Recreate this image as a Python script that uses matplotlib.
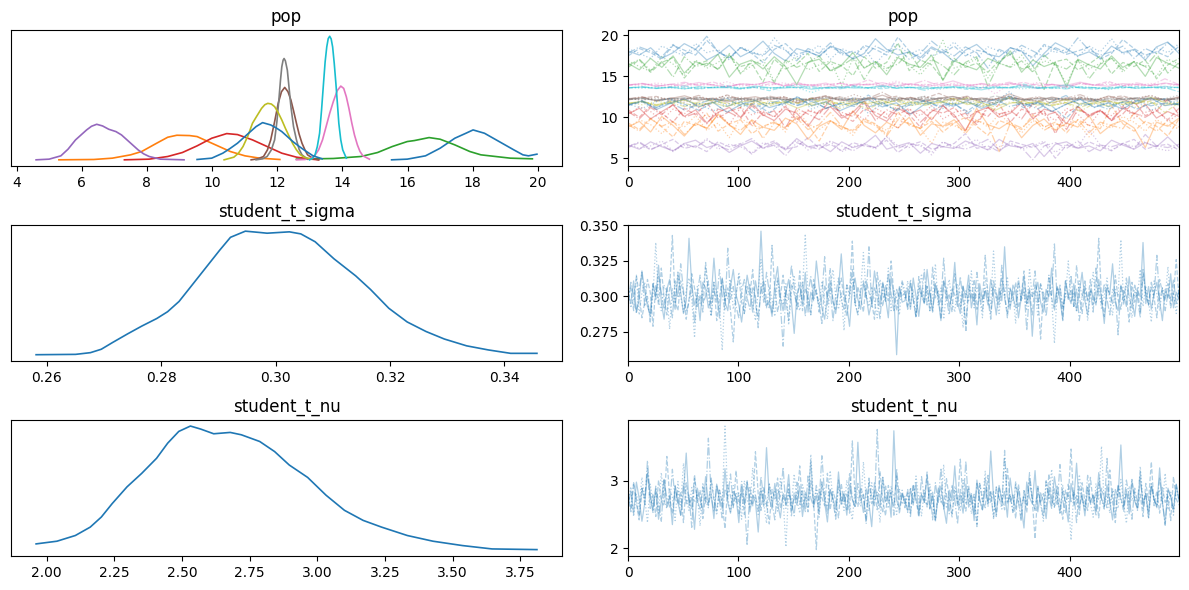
import numpy as np
import matplotlib.pyplot as plt

# ---------------- posterior densities ----------------
# pop components, in colour-cycle order C0..C9, then C0 again
pop_kde_x = [
    [15.51, 15.99, 16.55, 17.00, 17.45, 17.79, 18.01, 18.36, 18.81, 19.26, 19.54, 19.71, 19.97],
    [5.30, 6.37, 6.94, 7.50, 7.84, 8.30, 8.64, 8.92, 9.31, 9.54, 9.88, 10.22, 10.56, 11.01, 11.46, 12.08],
    [12.59, 13.72, 14.57, 15.08, 15.53, 15.99, 16.21, 16.66, 17.00, 17.45, 17.91, 18.25, 18.70, 19.15, 19.83],
    [7.31, 8.07, 8.64, 9.09, 9.54, 9.99, 10.45, 10.78, 11.24, 11.69, 12.14, 12.59, 13.05, 13.27],
    [4.60, 5.00, 5.36, 5.58, 5.81, 6.15, 6.30, 6.46, 6.64, 6.83, 7.05, 7.22, 7.39, 7.56, 7.73, 7.90, 8.07, 8.41, 9.14],
    [11.20, 11.40, 11.58, 11.70, 11.80, 11.92, 12.03, 12.13, 12.23, 12.33, 12.42, 12.50, 12.59, 12.67, 12.76, 12.85, 12.93, 13.10, 13.27],
    [12.59, 12.85, 13.05, 13.16, 13.27, 13.39, 13.50, 13.61, 13.72, 13.84, 13.95, 14.04, 14.12, 14.20, 14.29, 14.37, 14.46, 14.54, 14.63, 14.83],
    [11.35, 11.55, 11.69, 11.82, 11.92, 11.99, 12.05, 12.10, 12.14, 12.18, 12.21, 12.25, 12.31, 12.36, 12.42, 12.50, 12.59, 12.67, 12.76, 12.93],
    [10.37, 10.67, 10.81, 10.95, 11.10, 11.24, 11.35, 11.52, 11.62, 11.71, 11.82, 11.92, 12.03, 12.14, 12.25, 12.37, 12.48, 12.59, 12.70, 12.82, 13.05],
    [12.99, 13.08, 13.16, 13.23, 13.30, 13.36, 13.42, 13.47, 13.52, 13.565, 13.61, 13.655, 13.70, 13.75, 13.80, 13.85, 13.89, 13.95, 14.01, 14.12],
    [9.54, 9.99, 10.33, 10.55, 10.78, 10.95, 11.12, 11.35, 11.55, 11.80, 11.97, 12.14, 12.31, 12.48, 12.65, 12.82, 13.10, 13.38],
]
pop_kde_y = [
    [0, 2, 12, 35, 65, 80, 90, 80, 55, 30, 15, 12, 17],
    [0, 1, 5, 15, 25, 50, 68, 74, 73, 70, 55, 40, 25, 12, 5, 1],
    [2, 4, 10, 22, 40, 55, 58, 67, 62, 45, 25, 15, 10, 5, 3],
    [0, 2, 10, 22, 42, 65, 79, 76, 60, 40, 20, 8, 2, 0],
    [0, 2, 12, 32, 60, 90, 101, 107, 102, 92, 85, 75, 60, 45, 30, 18, 10, 2, 0],
    [0, 3, 10, 30, 60, 115, 170, 205, 218, 205, 180, 148, 110, 78, 50, 30, 15, 4, 0],
    [0, 1, 5, 14, 30, 60, 100, 140, 175, 208, 222, 215, 190, 155, 110, 75, 45, 25, 12, 2],
    [0, 3, 10, 30, 60, 115, 180, 240, 280, 300, 305, 298, 270, 220, 160, 100, 60, 32, 15, 2],
    [0, 8, 20, 40, 72, 110, 128, 155, 166, 170, 168, 160, 142, 120, 95, 70, 48, 30, 16, 8, 2],
    [0, 4, 15, 40, 80, 150, 230, 295, 340, 365, 372, 364, 340, 290, 230, 165, 110, 60, 30, 5],
    [1, 5, 20, 34, 50, 65, 80, 100, 112, 105, 96, 85, 70, 55, 42, 30, 12, 3],
]

sigma_kde_x = [0.2581, 0.2650, 0.2676, 0.2695, 0.2715, 0.2741, 0.2766, 0.2792, 0.2811, 0.2831,
               0.2850, 0.2876, 0.2902, 0.2921, 0.2947, 0.2973, 0.2985, 0.3024, 0.3044, 0.3069,
               0.3102, 0.3140, 0.3166, 0.3198, 0.3230, 0.3263, 0.3295, 0.3334, 0.3372, 0.3411, 0.3457]
sigma_kde_y = [0, 1, 6, 16, 36, 61, 84, 106, 126, 156, 196, 251, 306, 344, 362, 358, 356, 360,
               354, 331, 281, 231, 191, 136, 96, 68, 46, 26, 14, 4, 4]

nu_kde_x = [1.961, 2.038, 2.106, 2.161, 2.202, 2.242, 2.297, 2.351, 2.406, 2.447, 2.488, 2.531,
            2.569, 2.617, 2.678, 2.719, 2.787, 2.842, 2.896, 2.964, 3.032, 3.100, 3.169, 3.237,
            3.332, 3.427, 3.536, 3.645, 3.811]
nu_kde_y = [17, 25, 42, 67, 97, 137, 187, 227, 272, 317, 352, 368, 359, 345, 349, 342, 322, 292,
            252, 215, 162, 117, 87, 67, 42, 25, 12, 2, 0]

# ---------------- sampled chains (4 chains each, thinned reading of the right column) ----------------
pop_c0 = [
    [18.1, 17.6, 18.5, 17.2, 17.9, 19.0, 18.3, 17.0, 17.7, 18.8, 17.4, 18.1, 19.3, 17.8, 16.9, 18.4, 18.0, 17.5, 18.7, 18.2, 17.1, 17.8, 19.6, 18.3, 17.6, 18.0, 17.3, 18.6, 17.9, 16.8, 18.2, 18.9, 17.7, 17.4, 18.5, 18.1, 16.3, 17.8, 19.1, 18.4, 17.5, 18.0, 17.2, 18.7, 17.9, 18.3, 17.0, 18.6, 19.2, 17.8],
    [17.5, 18.4, 17.9, 17.1, 18.8, 18.2, 17.6, 19.4, 18.0, 17.3, 18.5, 17.8, 16.7, 18.3, 19.0, 17.7, 18.1, 17.4, 18.6, 17.9, 17.2, 18.8, 18.3, 17.6, 19.8, 18.1, 17.0, 18.4, 17.8, 18.7, 17.5, 18.2, 17.9, 16.6, 18.5, 18.0, 17.3, 18.9, 18.3, 17.7, 18.1, 18.6, 17.1, 17.8, 19.5, 18.4, 17.6, 18.0, 17.4, 18.7],
    [18.4, 17.8, 17.2, 18.7, 18.1, 17.5, 19.0, 17.9, 18.3, 17.0, 18.6, 18.0, 17.6, 19.7, 18.2, 17.4, 17.9, 18.8, 17.1, 18.4, 17.8, 18.5, 16.5, 18.1, 18.9, 17.7, 18.3, 17.5, 18.0, 19.2, 17.8, 17.2, 18.6, 18.1, 17.6, 18.4, 17.0, 18.8, 17.9, 18.3, 17.4, 18.7, 18.0, 19.6, 17.7, 18.2, 17.3, 18.5, 17.9, 19.0],
    [17.8, 18.6, 18.1, 17.4, 18.9, 17.7, 18.3, 19.9, 18.0, 17.2, 18.5, 17.9, 17.5, 18.8, 18.2, 16.9, 18.4, 17.8, 19.1, 17.6, 18.1, 17.3, 18.7, 18.0, 18.4, 17.1, 17.8, 19.3, 18.2, 17.5, 18.6, 17.9, 16.0, 18.3, 17.7, 18.8, 18.1, 17.4, 18.5, 17.9, 19.7, 18.2, 17.6, 18.0, 18.7, 17.2, 18.4, 17.8, 19.1, 18.1],
]
pop_c1 = [
    [8.8, 9.5, 8.2, 10.1, 9.0, 7.7, 9.3, 8.6, 10.4, 9.1, 7.9, 9.7, 8.8, 8.4, 9.9, 9.2, 7.3, 8.9, 9.6, 8.5, 10.8, 9.0, 8.1, 9.4, 8.7, 10.0, 7.8, 9.2, 8.9, 9.7, 8.3, 11.1, 9.1, 8.6, 9.5, 7.5, 9.0, 9.8, 8.4, 9.3, 8.8, 10.2, 8.0, 9.1, 9.6, 8.7, 6.3, 9.4, 8.9, 9.9],
    [9.3, 8.5, 9.9, 8.8, 7.6, 9.5, 9.0, 10.5, 8.3, 9.2, 9.7, 8.0, 8.9, 9.4, 8.6, 10.1, 9.1, 7.1, 9.6, 8.8, 8.4, 9.8, 9.2, 7.9, 10.7, 9.0, 8.7, 9.5, 8.2, 9.3, 10.0, 8.9, 7.8, 9.6, 9.1, 8.5, 10.3, 8.8, 9.4, 8.1, 9.7, 9.0, 8.6, 11.4, 9.2, 8.3, 9.5, 8.9, 7.7, 9.8],
    [8.6, 9.7, 9.1, 8.0, 9.4, 8.8, 10.2, 8.4, 9.3, 7.5, 9.9, 9.0, 8.7, 9.6, 8.2, 10.9, 9.2, 8.5, 9.5, 8.9, 7.8, 9.7, 9.1, 8.4, 10.0, 9.3, 8.6, 6.8, 9.4, 9.0, 8.3, 9.8, 8.8, 10.4, 9.2, 8.1, 9.6, 8.9, 8.5, 9.9, 9.3, 7.6, 9.1, 8.7, 10.1, 9.4, 8.3, 9.7, 9.0, 8.6],
    [9.1, 8.3, 9.8, 8.9, 9.5, 7.9, 9.2, 8.7, 10.3, 9.0, 8.4, 9.6, 7.4, 9.3, 8.8, 9.9, 8.5, 9.1, 10.6, 8.9, 8.2, 9.5, 9.0, 7.7, 9.7, 9.2, 8.6, 10.1, 8.8, 9.4, 8.0, 9.6, 9.1, 5.8, 9.3, 8.7, 9.9, 8.4, 9.2, 8.9, 9.7, 8.1, 9.4, 9.0, 8.6, 10.5, 9.2, 8.3, 9.6, 8.8],
]
pop_c2 = [
    [16.6, 15.8, 17.2, 16.1, 17.5, 15.4, 16.8, 16.3, 17.7, 14.9, 16.5, 17.0, 15.9, 17.4, 16.2, 14.0, 16.7, 17.1, 15.7, 16.4, 17.9, 16.0, 16.8, 15.2, 17.3, 16.5, 16.1, 17.6, 14.5, 16.9, 16.3, 15.8, 17.2, 16.6, 18.1, 15.5, 17.0, 16.2, 16.7, 13.7, 17.1, 16.4, 15.9, 17.5, 16.1, 16.8, 15.0, 17.3, 16.6, 16.0],
    [16.1, 17.0, 15.5, 16.7, 17.3, 14.8, 16.4, 16.9, 15.8, 17.6, 16.2, 16.6, 14.3, 17.1, 15.9, 16.5, 17.8, 15.6, 16.8, 16.3, 15.1, 17.4, 16.0, 16.7, 19.1, 15.7, 17.0, 16.4, 14.6, 17.2, 16.1, 16.6, 15.5, 16.9, 17.7, 15.9, 16.3, 13.4, 16.8, 17.1, 15.8, 16.5, 17.5, 15.3, 16.7, 16.2, 17.0, 14.7, 16.4, 17.2],
    [16.9, 16.2, 15.6, 17.4, 16.5, 15.1, 17.0, 16.0, 16.7, 17.8, 15.4, 16.3, 17.1, 14.4, 16.6, 17.3, 15.8, 16.4, 16.9, 13.9, 17.2, 16.1, 16.7, 15.7, 17.5, 16.3, 15.2, 16.8, 19.4, 16.0, 16.5, 17.1, 14.8, 16.6, 16.2, 17.6, 15.6, 16.9, 16.4, 14.1, 17.0, 15.9, 16.6, 17.3, 15.5, 16.8, 16.2, 15.0, 17.1, 16.5],
    [16.3, 17.1, 15.7, 16.8, 14.9, 17.4, 16.2, 16.6, 15.9, 17.7, 15.3, 16.9, 16.4, 14.2, 17.0, 16.1, 16.7, 17.5, 15.6, 16.3, 17.2, 14.6, 16.8, 16.0, 16.5, 18.0, 15.8, 17.1, 16.3, 15.2, 16.7, 17.4, 13.8, 16.6, 16.1, 16.9, 15.5, 17.6, 16.4, 15.9, 17.0, 14.7, 16.5, 17.2, 15.8, 16.8, 16.2, 17.8, 15.4, 16.7],
]
pop_c3 = [
    [10.4, 11.1, 9.8, 10.7, 11.5, 10.1, 10.9, 9.3, 10.6, 11.2, 10.0, 11.7, 10.3, 9.6, 11.0, 10.5, 8.9, 10.8, 11.3, 9.9, 10.6, 12.0, 10.2, 9.5, 11.1, 10.4, 10.9, 9.7, 11.4, 10.3, 8.4, 10.7, 11.2, 10.0, 10.5, 11.8, 9.8, 11.0, 10.6, 9.2, 11.3, 10.2, 10.8, 9.6, 11.1, 10.4, 11.6, 9.9, 10.7, 10.1],
    [10.9, 10.0, 11.4, 10.5, 9.4, 11.1, 10.3, 11.8, 9.9, 10.7, 11.2, 9.0, 10.6, 10.1, 11.3, 9.7, 10.8, 10.4, 12.1, 10.2, 9.5, 11.0, 10.6, 9.9, 11.5, 10.3, 8.8, 10.9, 10.5, 11.2, 9.8, 10.7, 10.1, 11.6, 9.4, 11.0, 10.4, 10.8, 8.0, 10.6, 11.3, 10.0, 10.9, 9.6, 10.4, 11.9, 10.2, 10.8, 9.7, 11.1],
    [10.2, 11.3, 10.7, 9.6, 11.0, 10.4, 11.7, 9.9, 10.6, 9.1, 11.2, 10.3, 10.8, 10.0, 11.5, 9.4, 10.9, 10.5, 12.3, 10.1, 10.7, 9.7, 11.1, 10.4, 8.6, 11.0, 10.2, 11.4, 9.8, 10.6, 10.9, 9.3, 11.3, 10.3, 10.7, 12.0, 10.0, 10.5, 9.6, 11.1, 10.4, 8.9, 10.8, 10.2, 11.5, 9.9, 10.6, 11.0, 9.5, 10.4],
    [10.7, 9.8, 11.2, 10.3, 11.6, 10.0, 10.5, 9.2, 11.0, 10.6, 9.9, 11.4, 10.2, 10.8, 8.7, 11.1, 10.4, 9.7, 11.3, 10.6, 10.1, 11.8, 9.6, 10.9, 10.3, 11.1, 9.4, 10.7, 11.5, 10.0, 10.5, 9.1, 11.2, 10.4, 10.8, 9.8, 11.7, 10.2, 10.6, 8.5, 11.0, 10.3, 10.9, 9.7, 11.3, 10.5, 10.0, 10.8, 12.2, 10.3],
]
pop_c4 = [
    [6.6, 6.1, 7.0, 6.4, 5.9, 6.8, 7.2, 6.3, 6.7, 5.7, 6.5, 7.1, 6.2, 6.9, 6.0, 7.4, 6.4, 6.6, 5.8, 7.0, 6.3, 6.7, 7.8, 6.1, 6.5, 6.9, 5.6, 6.8, 6.4, 6.2, 7.1, 6.6, 6.0, 7.3, 6.5, 6.3, 6.8, 5.2, 6.7, 7.0, 6.2, 6.5, 5.9, 7.2, 6.6, 6.1, 6.9, 6.4, 7.6, 6.3],
    [6.3, 6.9, 6.0, 6.7, 7.3, 6.2, 6.5, 5.8, 7.0, 6.4, 6.8, 5.5, 6.6, 7.1, 6.1, 6.4, 7.5, 6.2, 6.7, 5.9, 6.9, 6.5, 6.3, 7.2, 5.7, 6.6, 7.0, 6.1, 6.4, 6.8, 8.0, 6.2, 6.5, 5.8, 7.1, 6.7, 6.3, 6.9, 5.0, 6.6, 6.2, 7.0, 6.4, 5.9, 6.8, 7.3, 6.1, 6.5, 6.7, 6.0],
    [6.8, 6.2, 6.5, 7.1, 5.9, 6.6, 6.3, 7.4, 6.1, 6.7, 6.4, 5.6, 6.9, 6.5, 6.2, 7.2, 6.0, 6.6, 7.0, 5.8, 6.4, 6.8, 6.1, 7.7, 6.5, 6.3, 6.7, 5.4, 7.0, 6.2, 6.6, 7.3, 6.0, 6.4, 6.9, 6.1, 6.5, 7.1, 5.7, 6.7, 6.3, 8.5, 6.6, 6.0, 6.8, 6.4, 7.0, 6.2, 5.9, 6.6],
    [6.4, 7.0, 6.1, 6.6, 5.8, 6.8, 6.3, 7.2, 6.5, 6.0, 6.7, 7.4, 6.2, 6.6, 5.3, 6.9, 6.4, 6.1, 7.1, 6.5, 5.9, 6.7, 6.3, 7.6, 6.2, 6.8, 6.5, 5.7, 7.0, 6.4, 6.1, 6.6, 7.3, 6.0, 6.7, 6.3, 4.8, 6.5, 6.9, 6.2, 7.1, 5.8, 6.6, 6.4, 6.8, 6.1, 7.9, 6.5, 6.3, 6.7],
]
pop_c5 = [
    [12.21, 12.45, 11.98, 12.30, 12.62, 12.08, 12.35, 11.85, 12.27, 12.51, 12.14, 12.39, 11.72, 12.25, 12.58, 12.03, 12.33, 12.19, 12.70, 12.11, 12.42, 11.92, 12.28, 12.55, 12.06, 12.37, 12.17, 12.85, 12.24, 11.95, 12.47, 12.13, 12.31, 12.01, 12.60, 12.22, 11.60, 12.36, 12.15, 12.49],
    [12.12, 12.38, 12.55, 11.96, 12.27, 12.44, 12.09, 12.73, 12.19, 11.88, 12.34, 12.50, 12.05, 12.29, 12.64, 12.16, 11.79, 12.41, 12.23, 12.57, 12.02, 12.32, 12.92, 12.18, 12.46, 11.91, 12.26, 12.53, 12.10, 12.36, 11.68, 12.24, 12.48, 12.07, 12.39, 12.61, 12.14, 12.30, 11.99, 12.43],
    [12.33, 12.07, 12.48, 12.19, 11.83, 12.40, 12.26, 12.66, 12.02, 12.35, 12.13, 12.52, 11.94, 12.29, 12.45, 12.11, 12.78, 12.21, 11.76, 12.37, 12.16, 12.56, 12.04, 12.31, 12.47, 11.89, 12.25, 12.62, 12.09, 12.38, 12.20, 11.55, 12.42, 12.15, 12.54, 12.00, 12.34, 12.69, 12.12, 12.28],
    [12.26, 12.51, 12.03, 12.36, 12.18, 12.67, 11.90, 12.32, 12.44, 12.08, 12.59, 12.22, 11.81, 12.39, 12.14, 12.49, 12.01, 12.30, 13.05, 12.17, 12.43, 11.97, 12.35, 12.23, 12.58, 12.06, 11.70, 12.40, 12.19, 12.52, 12.10, 12.33, 12.76, 12.15, 11.93, 12.45, 12.27, 12.63, 12.04, 12.37],
]
pop_c6 = [
    [13.96, 14.12, 13.78, 14.03, 13.88, 14.25, 13.93, 13.70, 14.08, 13.99, 14.35, 13.84, 14.01, 13.91, 14.18, 13.62, 14.05, 13.95, 14.22, 13.87, 14.10, 13.75, 13.98, 14.44, 13.90, 14.07, 13.81, 14.14, 13.97, 13.52, 14.02, 13.89, 14.29, 13.94, 13.79, 14.11, 14.00, 13.86, 14.19, 13.92],
    [13.89, 14.06, 13.97, 13.73, 14.16, 13.92, 14.31, 13.85, 14.02, 13.67, 14.09, 13.95, 14.24, 13.80, 13.99, 14.13, 13.88, 14.58, 13.94, 13.76, 14.05, 13.91, 14.20, 13.83, 14.00, 13.58, 14.11, 13.96, 14.27, 13.86, 14.04, 13.71, 14.15, 13.93, 14.38, 13.82, 14.01, 13.90, 14.12, 13.98],
    [14.04, 13.86, 14.19, 13.95, 13.74, 14.10, 13.98, 14.33, 13.82, 14.06, 13.91, 14.23, 13.65, 14.01, 13.94, 14.15, 13.79, 14.08, 13.97, 14.41, 13.88, 14.03, 13.72, 14.17, 13.93, 14.00, 12.85, 14.12, 13.85, 14.26, 13.96, 13.77, 14.09, 13.90, 14.21, 13.99, 13.83, 14.14, 13.68, 14.05],
    [13.93, 14.14, 13.81, 14.02, 14.28, 13.89, 13.99, 13.69, 14.11, 13.94, 14.36, 13.84, 14.07, 13.96, 13.63, 14.18, 13.91, 14.04, 13.78, 14.22, 13.97, 14.50, 13.87, 14.01, 13.74, 14.13, 13.92, 14.29, 13.80, 14.06, 13.98, 13.60, 14.16, 13.95, 14.02, 13.86, 14.20, 13.90, 14.70, 14.00],
]
pop_c7 = [
    [12.21, 12.30, 12.12, 12.25, 12.38, 12.16, 12.23, 12.05, 12.28, 12.19, 12.44, 12.14, 12.26, 12.09, 12.33, 12.20, 11.96, 12.27, 12.17, 12.36, 12.22, 12.11, 12.29, 12.52, 12.18, 12.24, 12.02, 12.31, 12.15, 12.25, 12.39, 12.13, 12.20, 11.88, 12.27, 12.19, 12.34, 12.10, 12.23, 12.29],
    [12.17, 12.28, 12.06, 12.24, 12.35, 12.19, 12.12, 12.41, 12.22, 12.01, 12.30, 12.16, 12.25, 12.08, 12.47, 12.21, 12.14, 12.32, 12.18, 11.92, 12.26, 12.20, 12.37, 12.11, 12.28, 12.15, 12.61, 12.23, 12.04, 12.29, 12.19, 12.33, 12.13, 12.25, 11.80, 12.21, 12.38, 12.16, 12.27, 12.10],
    [12.26, 12.13, 12.31, 12.20, 12.04, 12.29, 12.17, 12.42, 12.22, 12.10, 12.34, 12.18, 11.99, 12.27, 12.21, 12.49, 12.15, 12.24, 12.07, 12.32, 12.19, 12.38, 12.12, 12.25, 11.72, 12.28, 12.16, 12.35, 12.21, 12.03, 12.30, 12.18, 12.45, 12.14, 12.23, 12.09, 12.36, 12.20, 12.27, 12.71],
    [12.19, 12.32, 12.08, 12.24, 12.15, 12.39, 12.21, 12.02, 12.28, 12.17, 12.46, 12.12, 12.25, 12.20, 11.94, 12.30, 12.16, 12.35, 12.23, 12.09, 12.27, 12.54, 12.18, 12.05, 12.31, 12.22, 12.14, 12.40, 12.19, 11.85, 12.26, 12.13, 12.33, 12.21, 12.07, 12.29, 12.17, 12.43, 12.11, 12.24],
]
pop_c8 = [
    [11.72, 11.95, 11.41, 11.83, 12.10, 11.58, 11.77, 11.30, 11.89, 12.02, 11.65, 11.84, 11.12, 11.75, 12.21, 11.52, 11.80, 11.68, 12.05, 11.44, 11.91, 11.62, 11.78, 12.32, 11.55, 11.86, 10.85, 11.70, 11.98, 11.48, 11.81, 12.14, 11.60, 11.74, 11.36, 11.93, 11.66, 12.45, 11.79, 11.50],
    [11.63, 11.88, 11.47, 11.99, 11.70, 11.27, 11.82, 12.13, 11.56, 11.76, 11.39, 11.94, 11.69, 12.27, 11.51, 11.85, 11.61, 11.05, 11.79, 11.97, 11.45, 11.73, 12.08, 11.59, 11.87, 11.33, 11.71, 12.38, 11.64, 11.90, 11.42, 11.78, 11.20, 11.83, 12.01, 11.57, 11.74, 11.96, 10.58, 11.81],
    [11.80, 11.53, 11.97, 11.67, 12.18, 11.43, 11.84, 11.71, 11.25, 11.90, 11.60, 12.06, 11.76, 11.38, 11.87, 11.66, 12.29, 11.49, 11.81, 11.00, 11.73, 11.95, 11.58, 12.11, 11.70, 11.46, 11.86, 12.55, 11.63, 11.77, 11.34, 11.92, 11.68, 12.03, 11.54, 11.82, 11.18, 11.75, 11.99, 11.61],
    [11.68, 11.92, 11.55, 11.79, 11.31, 11.86, 12.09, 11.64, 11.75, 11.40, 11.97, 11.72, 12.24, 11.50, 11.83, 11.09, 11.69, 11.93, 11.57, 12.16, 11.78, 11.44, 11.88, 11.62, 12.40, 11.74, 11.29, 11.85, 11.66, 12.00, 11.52, 11.80, 10.72, 11.71, 11.96, 11.59, 12.12, 11.77, 11.47, 11.84],
]
pop_c9 = [
    [13.61, 13.70, 13.54, 13.65, 13.48, 13.74, 13.59, 13.66, 13.52, 13.81, 13.62, 13.56, 13.69, 13.43, 13.63, 13.72, 13.57, 13.60, 13.88, 13.55, 13.67, 13.50, 13.64, 13.76, 13.58, 13.35, 13.66, 13.61, 13.71, 13.53, 13.68, 13.96, 13.59, 13.63, 13.46, 13.70, 13.57, 13.64, 13.78, 13.60],
    [13.58, 13.67, 13.51, 13.72, 13.62, 13.45, 13.66, 13.79, 13.56, 13.63, 13.25, 13.69, 13.60, 13.75, 13.53, 13.65, 13.84, 13.59, 13.49, 13.68, 13.62, 13.73, 13.55, 13.66, 13.41, 13.61, 13.70, 13.57, 14.05, 13.64, 13.52, 13.71, 13.60, 13.44, 13.67, 13.58, 13.77, 13.63, 13.54, 13.69],
    [13.64, 13.55, 13.71, 13.60, 13.47, 13.68, 13.62, 13.83, 13.57, 13.66, 13.50, 13.74, 13.61, 13.02, 13.65, 13.58, 13.72, 13.53, 13.67, 13.90, 13.59, 13.63, 13.42, 13.70, 13.56, 13.64, 13.78, 13.60, 13.48, 13.69, 13.61, 13.54, 13.75, 13.62, 13.38, 13.66, 13.59, 13.73, 13.57, 13.65],
    [13.60, 13.73, 13.56, 13.64, 13.82, 13.52, 13.67, 13.61, 13.44, 13.70, 13.58, 13.66, 13.93, 13.55, 13.63, 13.49, 13.71, 13.60, 13.76, 13.54, 13.65, 13.30, 13.68, 13.59, 13.74, 13.62, 13.51, 13.69, 13.86, 13.57, 13.64, 13.46, 13.72, 13.61, 13.58, 13.79, 13.53, 13.66, 13.63, 13.12],
]
pop_c10 = [
    [11.52, 11.98, 10.95, 11.71, 12.25, 11.30, 11.84, 10.62, 11.58, 12.07, 11.19, 11.66, 12.48, 11.40, 11.89, 10.81, 11.55, 12.15, 11.27, 11.77, 10.38, 11.63, 12.02, 11.35, 11.92, 11.09, 11.70, 12.61, 11.46, 11.83, 10.71, 11.59, 12.19, 11.23, 11.75, 11.01, 11.96, 12.35, 11.42, 11.68],
    [11.44, 11.87, 11.13, 12.10, 11.60, 10.86, 11.78, 12.30, 11.36, 11.65, 10.55, 11.91, 11.49, 12.21, 11.05, 11.73, 11.32, 12.72, 11.57, 10.93, 11.81, 12.04, 11.25, 11.67, 10.74, 11.94, 11.51, 12.40, 11.16, 11.76, 11.38, 9.85, 11.62, 12.12, 11.29, 11.85, 10.99, 11.70, 12.26, 11.48],
    [11.61, 11.08, 11.90, 12.33, 11.37, 11.74, 10.77, 11.56, 12.09, 11.21, 11.82, 11.46, 12.55, 11.00, 11.69, 11.31, 11.97, 10.49, 11.64, 12.17, 11.41, 11.79, 10.89, 11.53, 12.06, 11.28, 11.86, 13.15, 11.45, 11.72, 10.66, 11.60, 12.23, 11.18, 11.80, 11.39, 11.99, 10.83, 11.67, 12.01],
    [11.50, 12.03, 11.22, 11.76, 10.90, 11.63, 12.28, 11.34, 11.88, 10.58, 11.71, 12.13, 11.43, 11.95, 11.11, 11.66, 12.44, 11.26, 11.79, 10.79, 11.57, 12.00, 11.37, 11.84, 10.45, 11.69, 12.19, 11.31, 11.74, 11.03, 11.93, 12.66, 11.47, 11.62, 10.97, 11.83, 12.08, 11.40, 11.73, 11.55],
]
pop_chains = [pop_c0, pop_c1, pop_c2, pop_c3, pop_c4, pop_c5, pop_c6, pop_c7, pop_c8, pop_c9, pop_c10]

sigma_chains = [
    [0.302, 0.295, 0.311, 0.289, 0.298, 0.318, 0.304, 0.293, 0.287, 0.309, 0.300, 0.322, 0.296, 0.284, 0.305, 0.312, 0.299, 0.291, 0.316, 0.303, 0.288, 0.297, 0.341, 0.308, 0.294, 0.301, 0.283, 0.310, 0.306, 0.292, 0.299, 0.327, 0.302, 0.285, 0.313, 0.296, 0.290, 0.307, 0.319, 0.301, 0.294, 0.282, 0.298, 0.315, 0.304, 0.289, 0.311, 0.300, 0.346, 0.305, 0.293, 0.297, 0.286, 0.309, 0.321, 0.299, 0.290, 0.303, 0.312, 0.296, 0.274, 0.301, 0.308, 0.295, 0.317, 0.289, 0.303, 0.298, 0.325, 0.307, 0.292, 0.284, 0.300, 0.311, 0.297, 0.288, 0.305, 0.330, 0.302, 0.294, 0.279, 0.306, 0.313, 0.298, 0.291, 0.309, 0.301, 0.287, 0.296, 0.318, 0.304, 0.293, 0.310, 0.299, 0.285, 0.314, 0.300, 0.259, 0.307, 0.296,
     0.297, 0.306, 0.291, 0.313, 0.300, 0.286, 0.304, 0.295, 0.319, 0.302, 0.290, 0.308, 0.299, 0.283, 0.311, 0.305, 0.293, 0.301, 0.324, 0.296, 0.288, 0.307, 0.299, 0.315, 0.292, 0.303, 0.280, 0.309, 0.298, 0.304, 0.294, 0.312, 0.301, 0.287, 0.306, 0.297, 0.335, 0.300, 0.291, 0.308, 0.303, 0.285, 0.299, 0.314, 0.295, 0.306, 0.272, 0.302, 0.310, 0.296, 0.289, 0.305, 0.300, 0.320, 0.293, 0.307, 0.298, 0.284, 0.311, 0.301, 0.295, 0.309, 0.290, 0.303, 0.317, 0.297, 0.287, 0.305, 0.300, 0.294, 0.312, 0.299, 0.281, 0.306, 0.302, 0.323, 0.296, 0.290, 0.308, 0.301, 0.293, 0.314, 0.298, 0.286, 0.304, 0.300, 0.338, 0.295, 0.307, 0.291, 0.302, 0.310, 0.297, 0.283, 0.305, 0.299, 0.316, 0.292, 0.303, 0.298],
    [0.298, 0.307, 0.290, 0.315, 0.301, 0.285, 0.296, 0.312, 0.303, 0.279, 0.308, 0.294, 0.320, 0.299, 0.287, 0.305, 0.343, 0.296, 0.290, 0.311, 0.302, 0.284, 0.298, 0.316, 0.306, 0.293, 0.301, 0.289, 0.324, 0.304, 0.295, 0.310, 0.283, 0.299, 0.313, 0.297, 0.306, 0.290, 0.268, 0.302, 0.314, 0.296, 0.288, 0.307, 0.301, 0.319, 0.294, 0.286, 0.303, 0.311, 0.298, 0.292, 0.336, 0.305, 0.289, 0.300, 0.315, 0.297, 0.283, 0.309, 0.302, 0.294, 0.318, 0.290, 0.306, 0.299, 0.287, 0.312, 0.303, 0.295, 0.281, 0.308, 0.300, 0.320, 0.296, 0.291, 0.305, 0.313, 0.298, 0.286, 0.302, 0.339, 0.294, 0.307, 0.299, 0.289, 0.311, 0.303, 0.296, 0.284, 0.317, 0.301, 0.293, 0.308, 0.297, 0.325, 0.302, 0.290, 0.306, 0.300,
     0.303, 0.292, 0.309, 0.298, 0.286, 0.314, 0.301, 0.295, 0.307, 0.290, 0.321, 0.299, 0.304, 0.284, 0.311, 0.297, 0.302, 0.289, 0.316, 0.300, 0.293, 0.308, 0.275, 0.305, 0.298, 0.312, 0.291, 0.303, 0.296, 0.329, 0.301, 0.288, 0.307, 0.299, 0.294, 0.313, 0.302, 0.285, 0.306, 0.297, 0.310, 0.292, 0.300, 0.318, 0.295, 0.304, 0.287, 0.309, 0.301, 0.270, 0.303, 0.296, 0.314, 0.299, 0.290, 0.306, 0.302, 0.283, 0.311, 0.298, 0.305, 0.293, 0.322, 0.300, 0.288, 0.307, 0.297, 0.312, 0.294, 0.303, 0.341, 0.299, 0.286, 0.308, 0.301, 0.295, 0.315, 0.298, 0.291, 0.304, 0.300, 0.282, 0.310, 0.296, 0.306, 0.289, 0.319, 0.302, 0.294, 0.307, 0.299, 0.285, 0.312, 0.303, 0.297, 0.309, 0.292, 0.301, 0.326, 0.298],
    [0.305, 0.292, 0.299, 0.314, 0.287, 0.303, 0.310, 0.296, 0.285, 0.301, 0.338, 0.297, 0.290, 0.308, 0.302, 0.277, 0.306, 0.295, 0.318, 0.300, 0.289, 0.304, 0.313, 0.298, 0.271, 0.307, 0.295, 0.302, 0.321, 0.299, 0.286, 0.310, 0.303, 0.294, 0.262, 0.305, 0.298, 0.312, 0.291, 0.300, 0.317, 0.306, 0.288, 0.299, 0.309, 0.295, 0.283, 0.304, 0.326, 0.301, 0.292, 0.307, 0.298, 0.286, 0.313, 0.300, 0.294, 0.309, 0.280, 0.303, 0.315, 0.297, 0.290, 0.305, 0.344, 0.299, 0.287, 0.308, 0.302, 0.293, 0.311, 0.296, 0.284, 0.306, 0.319, 0.300, 0.291, 0.303, 0.276, 0.309, 0.298, 0.314, 0.295, 0.288, 0.304, 0.331, 0.301, 0.293, 0.307, 0.297, 0.285, 0.312, 0.302, 0.296, 0.320, 0.290, 0.305, 0.299, 0.287, 0.310,
     0.299, 0.311, 0.293, 0.305, 0.287, 0.302, 0.316, 0.296, 0.308, 0.290, 0.300, 0.323, 0.294, 0.306, 0.284, 0.303, 0.312, 0.297, 0.289, 0.309, 0.301, 0.278, 0.304, 0.296, 0.318, 0.292, 0.307, 0.299, 0.285, 0.313, 0.302, 0.295, 0.332, 0.298, 0.288, 0.306, 0.300, 0.314, 0.293, 0.304, 0.281, 0.310, 0.297, 0.303, 0.290, 0.320, 0.299, 0.305, 0.286, 0.309, 0.301, 0.294, 0.315, 0.298, 0.267, 0.304, 0.307, 0.292, 0.300, 0.325, 0.296, 0.303, 0.289, 0.311, 0.299, 0.306, 0.283, 0.302, 0.317, 0.295, 0.308, 0.291, 0.300, 0.313, 0.297, 0.287, 0.305, 0.301, 0.340, 0.294, 0.309, 0.298, 0.285, 0.304, 0.300, 0.319, 0.293, 0.307, 0.296, 0.282, 0.311, 0.302, 0.290, 0.306, 0.299, 0.321, 0.295, 0.303, 0.288, 0.308],
    [0.296, 0.310, 0.301, 0.288, 0.305, 0.317, 0.293, 0.300, 0.282, 0.309, 0.298, 0.314, 0.303, 0.291, 0.306, 0.297, 0.285, 0.311, 0.299, 0.323, 0.304, 0.289, 0.296, 0.308, 0.281, 0.302, 0.315, 0.295, 0.300, 0.311, 0.287, 0.305, 0.296, 0.319, 0.301, 0.290, 0.334, 0.298, 0.307, 0.293, 0.285, 0.304, 0.312, 0.299, 0.291, 0.306, 0.300, 0.278, 0.309, 0.296, 0.317, 0.303, 0.288, 0.301, 0.312, 0.295, 0.265, 0.304, 0.298, 0.322, 0.307, 0.291, 0.299, 0.310, 0.286, 0.302, 0.314, 0.297, 0.305, 0.289, 0.300, 0.328, 0.294, 0.306, 0.283, 0.301, 0.313, 0.298, 0.291, 0.308, 0.302, 0.320, 0.295, 0.287, 0.304, 0.311, 0.299, 0.335, 0.293, 0.306, 0.300, 0.284, 0.309, 0.297, 0.316, 0.302, 0.290, 0.305, 0.298, 0.311,
     0.304, 0.291, 0.312, 0.298, 0.285, 0.307, 0.300, 0.319, 0.294, 0.305, 0.289, 0.310, 0.302, 0.296, 0.327, 0.299, 0.287, 0.306, 0.301, 0.293, 0.314, 0.297, 0.280, 0.308, 0.303, 0.295, 0.317, 0.300, 0.290, 0.306, 0.298, 0.284, 0.311, 0.302, 0.296, 0.322, 0.299, 0.288, 0.305, 0.301, 0.292, 0.313, 0.297, 0.307, 0.276, 0.303, 0.300, 0.318, 0.294, 0.309, 0.298, 0.286, 0.304, 0.301, 0.337, 0.296, 0.308, 0.291, 0.302, 0.299, 0.315, 0.293, 0.306, 0.283, 0.300, 0.311, 0.297, 0.304, 0.289, 0.320, 0.301, 0.295, 0.309, 0.298, 0.287, 0.305, 0.302, 0.273, 0.307, 0.296, 0.313, 0.300, 0.292, 0.308, 0.299, 0.285, 0.316, 0.303, 0.294, 0.310, 0.301, 0.329, 0.297, 0.306, 0.290, 0.302, 0.298, 0.312, 0.295, 0.304],
]

nu_chains = [
    [2.62, 2.85, 2.51, 2.98, 2.74, 2.40, 2.66, 3.11, 2.79, 2.56, 2.88, 2.43, 2.70, 3.02, 2.61, 2.77, 2.35, 2.93, 2.68, 2.49, 2.82, 3.41, 2.63, 2.75, 2.28, 2.89, 2.71, 2.57, 3.06, 2.66, 2.80, 2.44, 2.95, 2.73, 2.59, 3.18, 2.68, 2.52, 2.84, 2.76, 2.38, 2.91, 2.65, 3.00, 2.54, 2.79, 2.69, 2.24, 2.87, 2.62, 3.49, 2.74, 2.58, 2.96, 2.67, 2.45, 2.81, 2.71, 3.09, 2.55, 2.76, 2.64, 2.92, 2.47, 2.83, 2.70, 3.30, 2.61, 2.78, 2.52, 2.99, 2.68, 2.39, 2.86, 2.74, 2.58, 3.13, 2.65, 2.81, 2.49, 2.94, 2.72, 2.62, 3.57, 2.77, 2.53, 2.88, 2.66, 2.32, 2.97, 2.75, 2.60, 3.05, 2.69, 2.83, 2.46, 3.74, 2.71, 2.58, 2.80,
     2.71, 2.55, 2.88, 2.64, 2.97, 2.49, 2.79, 2.68, 3.08, 2.58, 2.83, 2.43, 2.74, 2.92, 2.61, 2.37, 2.86, 2.70, 3.22, 2.63, 2.78, 2.52, 2.95, 2.67, 2.81, 2.41, 3.01, 2.72, 2.57, 2.89, 2.65, 3.44, 2.76, 2.50, 2.93, 2.69, 2.84, 2.46, 3.04, 2.73, 2.59, 2.87, 2.62, 2.30, 2.98, 2.75, 2.66, 3.15, 2.54, 2.82, 2.70, 2.44, 2.91, 2.64, 3.06, 2.77, 2.53, 2.85, 2.68, 2.39, 2.96, 2.72, 3.26, 2.60, 2.80, 2.48, 2.90, 2.67, 2.78, 2.56, 3.12, 2.74, 2.63, 2.94, 2.69, 2.42, 2.87, 2.76, 3.53, 2.61, 2.83, 2.51, 2.99, 2.70, 2.58, 3.03, 2.66, 2.81, 2.45, 2.92, 2.73, 2.60, 3.19, 2.68, 2.36, 2.89, 2.77, 2.55, 2.95, 2.71],
    [2.78, 2.54, 2.96, 2.67, 2.42, 2.89, 2.73, 3.18, 2.59, 2.81, 2.47, 3.01, 2.70, 2.63, 3.36, 2.76, 2.51, 2.92, 2.65, 2.84, 2.38, 2.97, 2.72, 2.58, 3.09, 2.68, 2.86, 2.44, 2.79, 2.63, 3.02, 2.71, 2.55, 2.88, 2.66, 2.29, 2.94, 2.77, 2.60, 3.15, 2.69, 2.83, 2.50, 2.98, 2.74, 2.62, 3.43, 2.80, 2.56, 2.91, 2.67, 2.36, 2.87, 2.73, 3.04, 2.59, 2.78, 2.65, 2.95, 2.48, 2.82, 2.70, 3.22, 2.61, 2.76, 2.54, 3.00, 2.69, 1.98, 2.88, 2.75, 2.63, 3.11, 2.57, 2.84, 2.71, 2.45, 2.96, 2.67, 2.80, 2.52, 3.59, 2.73, 2.62, 2.90, 2.78, 2.41, 2.99, 2.66, 2.85, 2.57, 3.14, 2.70, 2.48, 2.93, 2.76, 2.63, 3.07, 2.51, 2.82,
     2.65, 2.87, 2.52, 2.94, 2.73, 2.46, 2.82, 2.68, 3.13, 2.59, 2.77, 2.40, 2.90, 2.71, 2.62, 3.03, 2.75, 2.49, 2.85, 2.66, 3.32, 2.70, 2.55, 2.93, 2.64, 2.80, 2.34, 2.97, 2.72, 2.60, 3.08, 2.67, 2.84, 2.47, 2.91, 2.74, 2.57, 3.20, 2.69, 2.79, 2.44, 2.95, 2.63, 2.76, 2.53, 3.01, 2.71, 2.14, 2.88, 2.66, 2.81, 2.58, 3.10, 2.73, 2.61, 2.92, 2.68, 2.43, 2.86, 2.75, 3.47, 2.62, 2.78, 2.50, 2.97, 2.70, 2.56, 3.05, 2.67, 2.83, 2.45, 2.89, 2.74, 2.60, 3.16, 2.69, 2.38, 2.93, 2.76, 2.54, 2.87, 2.65, 3.02, 2.72, 2.59, 2.80, 2.47, 2.96, 2.71, 3.28, 2.63, 2.85, 2.52, 2.90, 2.68, 2.77, 2.41, 3.06, 2.73, 2.64],
    [2.69, 2.91, 2.47, 2.80, 2.62, 3.05, 2.74, 2.38, 2.95, 2.66, 2.83, 2.52, 3.12, 2.70, 2.59, 2.88, 2.76, 2.41, 2.99, 2.64, 3.26, 2.73, 2.56, 2.90, 2.68, 2.81, 2.33, 2.97, 2.71, 2.60, 3.04, 2.77, 2.49, 2.86, 2.65, 3.81, 2.74, 2.54, 2.93, 2.68, 2.82, 2.43, 3.00, 2.72, 2.61, 3.19, 2.76, 2.50, 2.89, 2.66, 2.37, 2.96, 2.70, 2.84, 2.55, 3.03, 2.74, 2.02, 2.87, 2.63, 3.10, 2.71, 2.52, 2.94, 2.79, 2.59, 3.39, 2.68, 2.86, 2.46, 2.98, 2.73, 2.61, 3.15, 2.70, 2.49, 2.91, 2.78, 2.56, 3.01, 2.66, 2.42, 2.89, 2.75, 2.62, 3.28, 2.72, 2.55, 2.97, 2.68, 2.83, 2.38, 3.05, 2.71, 2.59, 2.92, 2.76, 2.50, 2.88, 2.65,
     2.77, 2.53, 2.90, 2.66, 3.07, 2.72, 2.48, 2.86, 2.61, 2.95, 2.70, 2.39, 2.83, 2.68, 3.24, 2.59, 2.79, 2.45, 2.92, 2.73, 2.56, 3.01, 2.65, 2.88, 2.51, 2.76, 2.32, 2.97, 2.69, 3.14, 2.62, 2.84, 2.47, 2.91, 2.74, 2.58, 3.35, 2.67, 2.80, 2.54, 2.94, 2.71, 2.43, 2.87, 2.63, 3.04, 2.75, 2.57, 2.89, 2.66, 2.40, 2.98, 2.72, 3.17, 2.60, 2.82, 2.50, 2.93, 2.69, 2.78, 2.12, 2.86, 2.64, 3.09, 2.73, 2.55, 2.90, 2.67, 2.46, 2.96, 2.71, 3.51, 2.62, 2.81, 2.52, 2.88, 2.74, 2.59, 3.02, 2.66, 2.37, 2.92, 2.70, 2.84, 2.56, 3.21, 2.68, 2.79, 2.44, 2.95, 2.72, 2.61, 2.87, 2.65, 3.11, 2.57, 2.83, 2.49, 2.91, 2.69],
    [2.84, 2.59, 2.97, 2.71, 2.46, 2.89, 2.65, 3.30, 2.76, 2.53, 2.92, 2.68, 2.40, 3.01, 2.74, 2.61, 3.17, 2.70, 2.85, 2.49, 2.96, 2.66, 2.79, 2.31, 3.03, 2.72, 2.58, 2.91, 2.67, 3.63, 2.78, 2.54, 2.94, 2.69, 2.45, 2.88, 2.75, 3.10, 2.62, 2.83, 2.51, 2.99, 2.71, 2.04, 2.90, 2.66, 2.79, 2.56, 3.06, 2.73, 2.61, 2.95, 2.68, 2.42, 2.87, 2.76, 3.20, 2.59, 2.82, 2.70, 2.48, 2.98, 2.65, 2.85, 2.53, 3.07, 2.74, 2.62, 2.93, 2.67, 3.37, 2.78, 2.51, 2.89, 2.71, 2.43, 3.01, 2.66, 2.84, 2.57, 3.12, 2.73, 2.60, 2.96, 2.69, 2.80, 2.36, 3.04, 2.75, 2.63, 3.76, 2.70, 2.54, 2.92, 2.67, 2.83, 2.49, 3.18, 2.72, 2.86,
     2.60, 2.82, 2.47, 2.93, 2.70, 2.55, 3.06, 2.74, 2.63, 2.89, 2.42, 2.97, 2.68, 3.19, 2.58, 2.81, 2.51, 2.94, 2.72, 2.36, 2.87, 2.66, 3.29, 2.61, 2.78, 2.49, 2.96, 2.71, 2.57, 3.03, 2.69, 2.84, 2.44, 2.90, 2.75, 2.62, 3.45, 2.67, 2.80, 2.53, 2.99, 2.70, 2.40, 2.86, 2.64, 3.12, 2.73, 2.56, 2.92, 2.68, 2.46, 3.00, 2.76, 2.59, 2.88, 2.65, 3.24, 2.71, 2.52, 2.95, 2.69, 2.83, 2.38, 2.91, 2.74, 2.60, 3.08, 2.67, 2.79, 2.48, 2.97, 2.72, 2.58, 3.33, 2.66, 2.85, 2.50, 2.93, 2.70, 2.62, 3.01, 2.75, 2.43, 2.89, 2.68, 3.15, 2.57, 2.81, 2.53, 2.96, 2.71, 2.64, 3.05, 2.69, 2.34, 2.87, 2.76, 2.59, 2.94, 2.72],
]

titles = ["pop", "student_t_sigma", "student_t_nu"]
chain_styles = ["-", "--", ":", "-."]
n_draws = 500
colors = plt.rcParams["axes.prop_cycle"].by_key()["color"]

fig, axes = plt.subplots(3, 2, figsize=(11.89, 5.9), dpi=100)
fig.subplots_adjust(left=0.0093, right=0.9916, top=0.949, bottom=0.058, wspace=0.12, hspace=0.434)

# left column: densities
for i, (kx, ky) in enumerate(zip(pop_kde_x, pop_kde_y)):
    axes[0, 0].plot(kx, ky, color=colors[i % 10], lw=1.2)
axes[1, 0].plot(sigma_kde_x, sigma_kde_y, color="C0", lw=1.2)
axes[2, 0].plot(nu_kde_x, nu_kde_y, color="C0", lw=1.2)

# right column: traces
for i, comp in enumerate(pop_chains):
    for c, vals in enumerate(comp):
        draws = np.linspace(0, n_draws - 1, len(vals))
        axes[0, 1].plot(draws, vals, color=colors[i % 10], ls=chain_styles[c], lw=0.9, alpha=0.35)
for row, chains in ((1, sigma_chains), (2, nu_chains)):
    for c, vals in enumerate(chains):
        draws = np.linspace(0, n_draws - 1, len(vals))
        axes[row, 1].plot(draws, vals, color="C0", ls=chain_styles[c], lw=0.9, alpha=0.35)

for r, t in enumerate(titles):
    axes[r, 0].set_title(t)
    axes[r, 0].set_yticks([])
    axes[r, 1].set_title(t)
    axes[r, 1].set_xlim(0, n_draws - 1)

axes[0, 0].set_xticks([4, 6, 8, 10, 12, 14, 16, 18, 20])
axes[1, 0].set_xticks([0.26, 0.28, 0.30, 0.32, 0.34])
axes[2, 0].set_xticks([2.00, 2.25, 2.50, 2.75, 3.00, 3.25, 3.50, 3.75])
axes[0, 1].set_yticks([5, 10, 15, 20])
axes[1, 1].set_yticks([0.275, 0.300, 0.325, 0.350])
axes[2, 1].set_yticks([2, 3])

fig.savefig("out.png", dpi=100)
